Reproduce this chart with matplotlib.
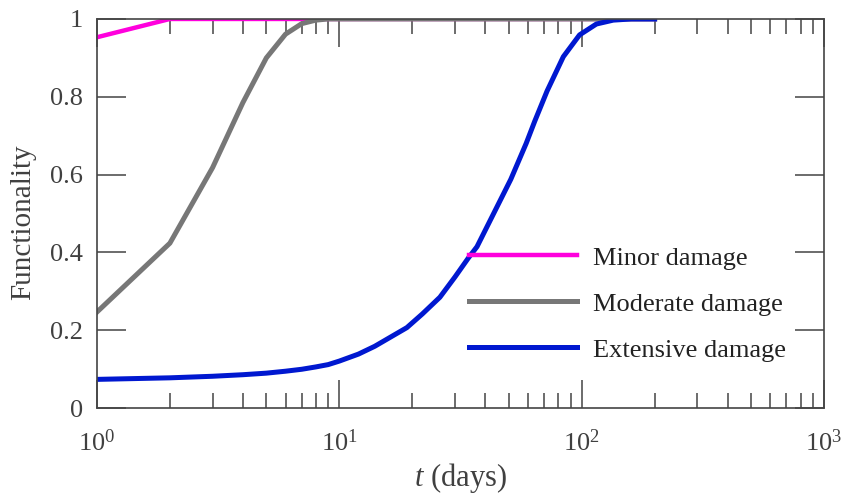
import numpy as np
import matplotlib.pyplot as plt
from matplotlib.ticker import LogLocator, NullFormatter

plt.rcParams['font.family'] = ['Liberation Serif', 'DejaVu Serif']
plt.rcParams['mathtext.fontset'] = 'custom'
plt.rcParams['mathtext.rm'] = 'Liberation Serif'
plt.rcParams['mathtext.it'] = 'Liberation Serif:italic'

# recovery curves (time in days, functionality 0..1)
t_minor = [1, 2, 200]
minor = [0.953, 1.0, 1.0]

t_moderate = [1, 2, 3, 4, 5, 6, 7, 8, 9, 10, 200]
moderate = [0.247, 0.424, 0.618, 0.785, 0.90, 0.961, 0.988, 0.997, 1.0, 1.0, 1.0]

t_extensive = [1, 2, 3, 4, 5, 6, 7, 8, 9, 10, 12, 14, 16, 19, 22, 26, 30, 34,
               37, 43, 51, 59, 64, 72, 84, 98, 115, 135, 160, 200]
extensive = [0.074, 0.078, 0.082, 0.086, 0.090, 0.095, 0.100, 0.106, 0.112,
             0.121, 0.139, 0.159, 0.180, 0.207, 0.242, 0.285, 0.337, 0.385,
             0.415, 0.496, 0.588, 0.680, 0.737, 0.815, 0.903, 0.959, 0.987,
             0.997, 1.0, 1.0]

labels = ['Minor damage', 'Moderate damage', 'Extensive damage']
colors = ['#ff00dd', '#777777', '#0018d0']

fig = plt.figure(figsize=(8.43, 4.99), dpi=100)
ax = fig.add_axes([0.115, 0.182, 0.8625, 0.780])

ax.plot(t_minor, minor, color=colors[0], lw=3.2, label=labels[0])
ax.plot(t_moderate, moderate, color=colors[1], lw=3.6, label=labels[1])
ax.plot(t_extensive, extensive, color=colors[2], lw=3.6, label=labels[2])

ax.set_xscale('log')
ax.set_xlim(1, 1000)
ax.set_ylim(0, 1)
ax.set_yticks([0, 0.2, 0.4, 0.6, 0.8, 1])
ax.set_yticklabels(['0', '0.2', '0.4', '0.6', '0.8', '1'])
ax.xaxis.set_minor_locator(LogLocator(base=10, subs=np.arange(2, 10)))
ax.xaxis.set_minor_formatter(NullFormatter())

for s in ax.spines.values():
    s.set_color('#444444')
    s.set_linewidth(1.2)

ax.tick_params(which='both', direction='in', top=True, right=True,
               colors='#444444', labelcolor='#404040', labelsize=19, width=1.1)
ax.tick_params(axis='y', which='major', length=21, pad=10)
ax.tick_params(axis='x', which='major', length=20, pad=15)
ax.tick_params(axis='x', which='minor', length=10.5)

ax.set_xlabel('$t$ (days)', fontsize=22, color='#404040', labelpad=4)
ax.set_ylabel('Functionality', fontsize=21, color='#404040')
ax.yaxis.set_label_coords(-0.083, 0.478)

leg = ax.legend(loc='center right', bbox_to_anchor=(0.98, 0.268), frameon=False,
                fontsize=19, handlelength=4.1, labelspacing=0.85, handletextpad=0.6)
for t in leg.get_texts():
    t.set_color('#222222')

fig.savefig('out.png', dpi=100)
